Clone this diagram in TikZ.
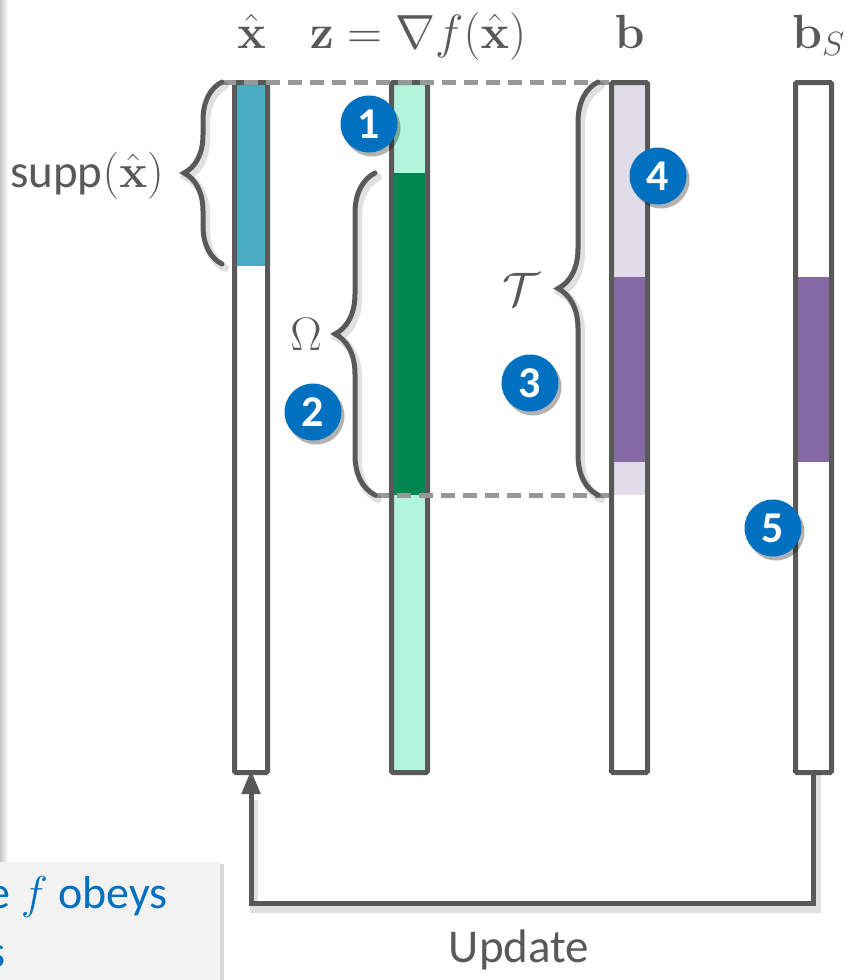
\documentclass[tikz,border=0pt]{standalone}
\usepackage{fix-cm}
\usepackage[no-math]{fontspec}
\setmainfont{Carlito}
\usepackage{amsmath}
\usetikzlibrary{arrows.meta,decorations.pathreplacing,shadows}

\definecolor{framegray}{HTML}{595959}
\definecolor{dashgray}{HTML}{97989A}
\definecolor{xblue}{HTML}{4BACC6}
\definecolor{zmint}{HTML}{B3F5DC}
\definecolor{zgreen}{HTML}{00874F}
\definecolor{blav}{HTML}{E0DCEA}
\definecolor{bpurple}{HTML}{8469A4}
\definecolor{numblue}{HTML}{0070C0}
\definecolor{boxgray}{HTML}{F2F2F2}

\tikzset{
  colframe/.style={draw=framegray, line width=5pt, rounded corners=1.5pt,
    minimum height=690pt, inner sep=0pt, outer sep=0pt, anchor=north},
  guide/.style={draw=dashgray, line width=5pt, dash pattern=on 14pt off 8pt},
  bracestyle/.style={draw=framegray, line width=5pt, line cap=round,
    decorate, decoration={brace, amplitude=#1}},
  braceshadow/.style={draw=black, opacity=0.12, line width=8pt, line cap=round,
    decorate, decoration={brace, amplitude=#1}},
  numcirc/.style={circle, fill=numblue, minimum size=57pt, inner sep=0pt,
    text=white, font=\bfseries\fontsize{44}{44}\selectfont,
    drop shadow={shadow xshift=3pt, shadow yshift=-4pt, opacity=0.3, fill=black}},
  heading/.style={text=framegray, font=\fontsize{48}{52}\selectfont, inner sep=0pt},
  lbl/.style={text=framegray, font=\fontsize{47}{50}\selectfont, inner sep=0pt},
  flow/.style={draw=framegray, line width=5pt},
}

\begin{document}
\begin{tikzpicture}[x=1pt, y=-1pt]
\useasboundingbox (0,0) rectangle (847,980);

% edge of the neighbouring panel on the left
\shade[left color=black!22, right color=white] (0,0) rectangle (8,862);

% note box in the lower left corner
\begin{scope}
  \clip (0,0) rectangle (847,980);
  \fill[boxgray, drop shadow={shadow xshift=4pt, shadow yshift=-2pt, opacity=0.3}]
    (-30,862) rectangle (220,1010);
  \node[anchor=base east, inner sep=0pt, text=numblue,
        font=\fontsize{46}{50}\selectfont] (note1) at (168,908) {e $f$ obeys};
  \node[anchor=base east, inner sep=0pt, text=numblue,
        font=\fontsize{46}{50}\selectfont] (note2) at (6,967) {s};
\end{scope}

% column contents
\fill[xblue]   (234.5,82.5) rectangle (267.5,266);
\fill[zmint]   (391.5,82.5) rectangle (427.5,173);
\fill[zgreen]  (391.5,173)  rectangle (427.5,495);
\fill[zmint]   (391.5,495)  rectangle (427.5,772.5);
\fill[blav]    (611.5,82.5) rectangle (647.5,277);
\fill[bpurple] (611.5,277)  rectangle (647.5,462);
\fill[blav]    (611.5,462)  rectangle (647.5,495);
\fill[bpurple] (795.5,277)  rectangle (831.5,462);

% column frames
\node[colframe, minimum width=33pt] (cx)  at (251,82.5)   {};
\node[colframe, minimum width=36pt] (cz)  at (409.5,82.5) {};
\node[colframe, minimum width=36pt] (cb)  at (629.5,82.5) {};
\node[colframe, minimum width=36pt] (cbs) at (813.5,82.5) {};

% dashed guides
\draw[guide] (222,82) -- (609,82);
\draw[guide] (375,495) -- (609,495);

% braces
\draw[braceshadow=38pt] (225,268) -- (225,86);
\draw[braceshadow=40pt] (378,499) -- (378,177);
\draw[braceshadow=40pt] (601,499) -- (601,86);
\draw[bracestyle=38pt] (222,264) -- (222,82);
\draw[bracestyle=40pt] (375,495) -- (375,173);
\draw[bracestyle=40pt] (598,495) -- (598,82);

% brace labels
\node[lbl, anchor=base west] (lsupp) at (10,187) {supp$(\hat{\mathbf{x}})$};
\node[lbl, anchor=base] (lomega) at (306,350) {$\Omega$};
\node[lbl, anchor=base] (ltau) at (521,305) {$\mathcal{T}$};

% headings
\node[heading, anchor=base] (hx) at (251.5,48) {$\hat{\mathbf{x}}$};
\node[heading, anchor=base] (hz) at (418,48) {$\mathbf{z}=\nabla f(\hat{\mathbf{x}})$};
\node[heading, anchor=base] (hb) at (629.5,48) {$\mathbf{b}$};
\node[heading, anchor=base west] (hbs) at (792,48) {$\mathbf{b}_S$};

% update loop
\draw[draw=black, opacity=0.12, line width=8pt]
  ([xshift=3pt]cbs.south) -- (816.5,909) -- (254,909) -- (254,800);
\draw[flow, -{Triangle[length=24pt, width=18pt]}]
  (cbs.south) -- (813.5,903) -| ([yshift=2.5pt]cx.south);
\node[lbl, anchor=base] (lupd) at (519,962) {Update};

% step markers
\node[numcirc] (n1) at (369,124) {1};
\node[numcirc] (n2) at (313,412) {2};
\node[numcirc] (n3) at (530,383) {3};
\node[numcirc] (n4) at (658,176) {4};
\node[numcirc] (n5) at (773,528) {5};
\end{tikzpicture}
\end{document}
